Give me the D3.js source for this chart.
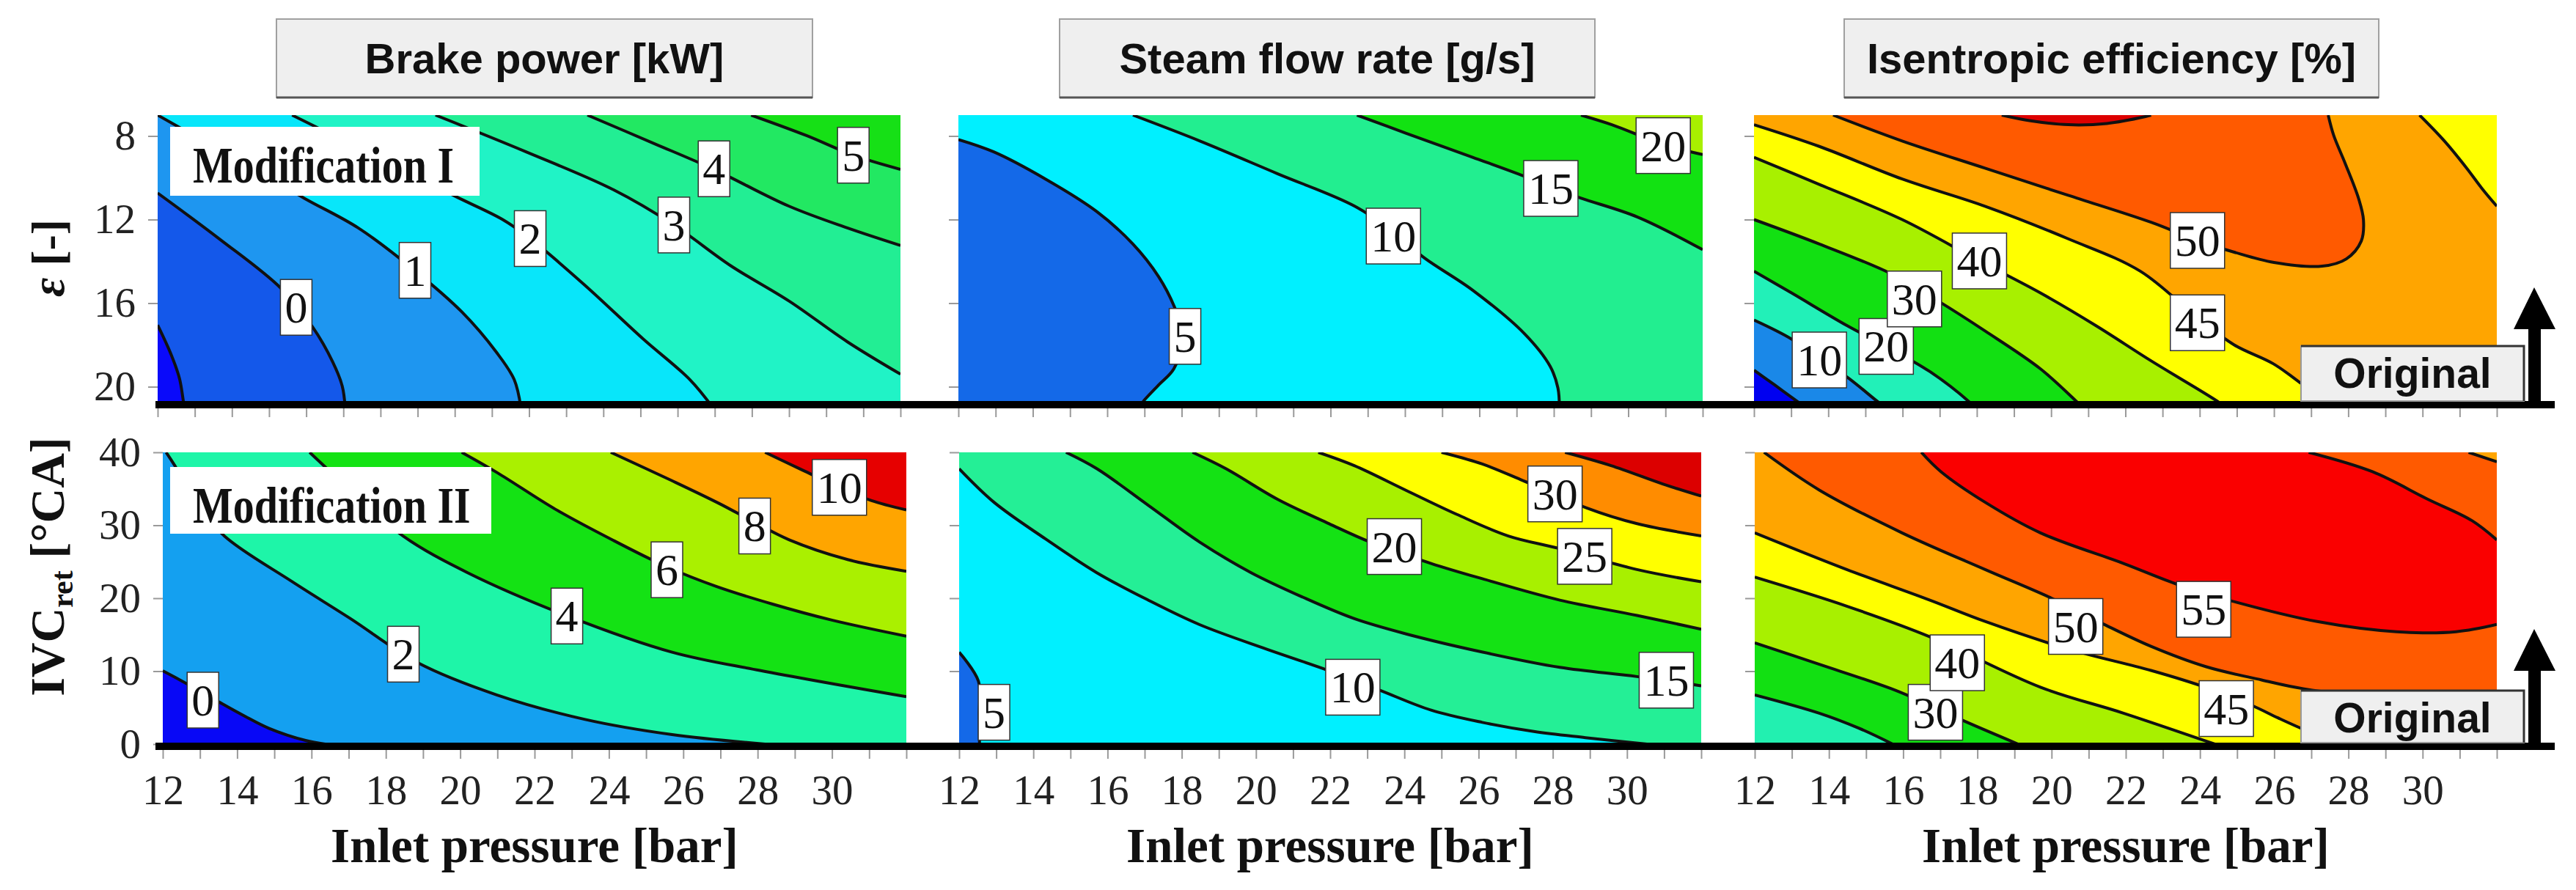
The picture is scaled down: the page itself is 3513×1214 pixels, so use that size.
<!DOCTYPE html>
<html>
<head>
<meta charset="utf-8">
<script src="https://cdn.jsdelivr.net/npm/d3@7"></script>
<style>
  body { margin: 0; background: #fff; }
  svg { display: block; }
</style>
</head>
<body>
<svg id="fig" width="3513" height="1214"></svg>
<script>
// axis ticks
var pressureTicks = [12, 14, 16, 18, 20, 22, 24, 26, 28, 30];
var epsTicks = [8, 12, 16, 20];
var ivcTicks = [0, 10, 20, 30, 40];
var panelTitles = ["Brake power [kW]", "Steam flow rate [g/s]", "Isentropic efficiency [%]"];
var rowNames = ["Modification I", "Modification II"];

// contour lines: [inlet pressure, eps or IVC]
// low:true = the closed part is the side below the level

// Brake power, Modification I
var bp1Levels = [-1, 0, 1, 2, 3, 4, 5];
var bp1Lines = [
  {level: -1, pts: [[12,17.05],[12.36,18.45],[12.59,19.62],[12.69,20.67],[12.72,21]]},
  {level: 0, pts: [[12,10.73],[13.68,12.95],[15.32,15.29],[16.18,17.16],[16.71,18.8],[16.97,19.97],[17.05,21]]},
  {level: 1, pts: [[12,7],[13.2,8.2],[14.6,9.55],[15.94,10.97],[17.4,12.4],[18.93,14.45],[20.19,16.42],[21.13,18.37],[21.6,19.66],[21.78,21]]},
  {level: 2, pts: [[15.62,7],[17.1,8.3],[18.6,9.6],[20.03,10.9],[21.29,12.0],[22.03,12.91],[23.49,15.12],[25.07,17.71],[26.33,19.66],[26.95,21]]},
  {level: 3, pts: [[19.48,7],[21.92,8.76],[24.28,10.58],[25.9,12.26],[27.43,14.21],[29.0,15.9],[30.57,17.85],[32,19.4]]},
  {level: 4, pts: [[23.57,7],[25.38,8.37],[26.98,9.6],[29.0,11.36],[30.57,12.4],[32,13.24]]},
  {level: 5, pts: [[27.98,7],[29.47,7.98],[30.73,8.92],[32,9.6]]}
];
var bp1Labels = [
  {text: "0", at: [15.73,16.2]}, {text: "1", at: [18.93,14.43]}, {text: "2", at: [22.03,12.91]},
  {text: "3", at: [25.9,12.26]}, {text: "4", at: [26.98,9.57]}, {text: "5", at: [30.73,8.92]}
];

// Brake power, Modification II
var bp2Levels = [0, 2, 4, 6, 8, 10];
var bp2Lines = [
  {level: 0, pts: [[12,10.05],[12.55,8.55],[13.1,7.0],[13.6,5.53],[14.2,3.85],[14.85,2.18],[15.84,0.5],[16.37,0]]},
  {level: 2, pts: [[12.09,40],[12.32,38.2],[12.9,33],[13.67,28.47],[15.48,22.27],[17.05,17.2],[18.86,11.15],[20.98,6.75],[23.34,3.4],[25.7,1.3],[28.2,0]]},
  {level: 4, pts: [[15.95,40],[17.05,34.8],[18.47,28.5],[20.2,23.5],[22.87,17.6],[25.7,12.6],[28.06,10.1],[32,6.5]]},
  {level: 6, pts: [[20.04,40],[21.0,37.2],[22.56,32.2],[24.13,27.9],[25.56,24.3],[26.9,21.6],[28.4,19.2],[30.0,17.0],[32,14.8]]},
  {level: 8, pts: [[24.05,40],[25.7,36.1],[26.96,33.0],[27.92,30.4],[28.85,28.0],[30.42,25.3],[32,23.7]]},
  {level: 10, pts: [[28.2,40],[29.15,37.7],[30.2,35.2],[31.05,33.4],[32,32.1]]}
];
var bp2Labels = [
  {text: "0", at: [13.08,6.03]}, {text: "2", at: [18.47,12.33]}, {text: "4", at: [22.87,17.56]},
  {text: "6", at: [25.56,23.9]}, {text: "8", at: [27.92,29.9]}, {text: "10", at: [30.2,35.2]}
];

// Steam flow rate, Modification I
var sf1Levels = [5, 10, 15, 20];
var sf1Lines = [
  {level: 5, pts: [[12,8.17],[12.95,8.76],[14.34,10.06],[15.72,11.62],[16.69,13.17],[17.38,14.73],[17.8,16.16],[18.05,17.6],[17.79,19.14],[17.38,19.92],[16.97,20.7],[16.85,21]]},
  {level: 10, pts: [[16.69,7],[18.49,8.24],[20.57,9.8],[22.65,11.36],[23.69,12.6],[24.51,13.82],[25.82,15.38],[27.21,17.46],[27.9,19.02],[28.11,20.06],[28.15,21]]},
  {level: 15, pts: [[22.71,7],[24.02,7.86],[25.82,9.02],[27.21,9.93],[27.92,10.45],[28.72,10.97],[30.25,11.88],[32,13.44]]},
  {level: 20, pts: [[28.73,7],[29.56,7.46],[30.94,8.4],[32,8.89]]}
];
var sf1Labels = [
  {text: "5", at: [18.09,17.59]}, {text: "10", at: [23.69,12.79]},
  {text: "15", at: [27.92,10.51]}, {text: "20", at: [30.94,8.46]}
];

// Steam flow rate, Modification II
var sf2Levels = [5, 10, 15, 20, 25, 30, 35];
var sf2Lines = [
  {level: 5, pts: [[12,12.6],[12.52,8.64],[12.54,4.0],[12.55,0]]},
  {level: 10, pts: [[12,37.75],[12.94,33.15],[14.33,28.12],[15.71,23.5],[17.1,19.73],[18.48,16.38],[20.28,13.03],[21.95,10.1],[23.33,7.4],[24.72,4.66],[26.1,2.98],[27.49,1.73],[28.88,0.89],[30.54,0]]},
  {level: 15, pts: [[14.88,40],[15.71,37.76],[17.1,32.73],[18.48,27.7],[19.87,23.5],[21.26,20.15],[22.64,17.22],[24.03,15.13],[26.11,12.61],[28.19,10.52],[30.27,9.26],[32,8.0]]},
  {level: 20, pts: [[18.29,40],[19.19,37.76],[20.58,33.57],[21.97,30.22],[23.08,27.7],[24.72,24.77],[26.1,22.67],[28.19,19.74],[30.27,17.64],[32,15.76]]},
  {level: 25, pts: [[21.68,40],[22.65,38.18],[24.03,34.83],[25.42,31.48],[26.8,28.54],[28.19,26.8],[30.27,23.93],[32,22.25]]},
  {level: 30, pts: [[25.0,40],[26.1,38.4],[27.21,36.1],[28.06,34.3],[28.9,32.4],[30.27,30.22],[32,28.54]]},
  {level: 35, pts: [[28.33,40],[29.57,38.18],[30.96,35.67],[32,34.0]]}
];
var sf2Labels = [
  {text: "5", at: [12.94,4.36]}, {text: "10", at: [22.61,7.8]}, {text: "15", at: [31.06,8.76]},
  {text: "20", at: [23.73,27.08]}, {text: "25", at: [28.86,25.74]}, {text: "30", at: [28.06,34.3]}
];

// Isentropic efficiency, Modification I
var ie1Levels = [5, 10, 20, 30, 40, 45, 50, 55];
var ie1Lines = [
  {level: 5, pts: [[12,19.21],[12.56,19.92],[13.16,20.7],[13.4,21]]},
  {level: 10, pts: [[12,16.81],[13.01,17.72],[13.76,18.69],[14.5,19.53],[15.32,20.7],[15.55,21]]},
  {level: 20, pts: [[12,14.47],[13.01,15.51],[14.5,17.07],[15.56,18.07],[16.73,19.27],[17.78,20.7],[17.95,21]]},
  {level: 30, pts: [[12,12.0],[13.76,13.17],[15.7,14.6],[16.96,15.9],[18.22,17.33],[19.71,19.14],[20.68,20.7],[20.85,21]]},
  {level: 40, pts: [[12,9.02],[13.76,10.32],[15.99,12.0],[18.07,13.98],[19.71,15.51],[21.2,17.07],[22.69,18.76],[24.48,20.7],[24.7,21]]},
  {level: 45, pts: [[12,7.46],[13.76,8.5],[15.99,10.06],[18.22,11.36],[20.46,12.92],[22.4,14.47],[23.94,16.7],[24.93,18.0],[25.98,18.9],[26.73,19.84],[27.6,21]]},
  {level: 45, low: true, pts: [[29.92,7],[30.59,8.24],[31.19,9.54],[31.63,10.58],[32,11.36]]},
  {level: 50, pts: [[14.13,7],[15.99,8.24],[18.22,9.54],[20.46,10.84],[22.69,12.13],[23.94,13.0],[24.93,13.56],[26.0,14.05],[27.3,14.23],[27.95,13.88],[28.35,13.03],[28.41,12.02],[28.28,11.0],[27.91,9.28],[27.61,7.98],[27.46,7]]},
  {level: 55, pts: [[18.67,7],[19.41,7.26],[20.46,7.46],[21.5,7.4],[22.54,7.07],[22.69,7]]}
];
var ie1Labels = [
  {text: "10", at: [13.76,18.72]}, {text: "20", at: [15.56,18.07]}, {text: "30", at: [16.32,15.8]},
  {text: "40", at: [18.07,13.98]}, {text: "45", at: [23.94,16.94]}, {text: "50", at: [23.94,13.0]}
];

// Isentropic efficiency, Modification II
var ie2Levels = [20, 30, 40, 45, 50, 55];
var ie2Lines = [
  {level: 20, pts: [[12,6.75],[13.74,4.24],[14.8,2.2],[15.72,0]]},
  {level: 30, pts: [[12,13.88],[13.74,10.94],[15.68,7.59],[16.87,5.0],[17.54,3.4],[19.1,0]]},
  {level: 40, pts: [[12,22.89],[14.48,18.91],[16.72,14.72],[19.7,7.8],[21.94,4.24],[24.4,0]]},
  {level: 45, pts: [[12,28.96],[14.48,23.93],[16.72,19.74],[18.21,16.81],[20.45,13.03],[22.68,10.1],[24.2,7.7],[25.4,5.3],[26.1,3.6],[26.8,2.0],[27.8,0]]},
  {level: 50, pts: [[12.25,40],[13.74,34.83],[15.97,28.96],[18.21,23.93],[20.0,20.0],[21.34,16.6],[22.68,13.4],[24.17,10.6],[25.66,8.8],[26.78,7.6],[29.39,6.1],[32,5.3]]},
  {level: 55, pts: [[16.49,40],[17.02,37.34],[18.21,33.15],[19.7,28.96],[21.94,24.77],[23.43,21.83],[24.77,19.74],[27.16,16.8],[29.3,15.4],[30.9,15.4],[32,16.4]]},
  {level: 55, low: true, pts: [[26.93,40],[28.65,37.34],[30.14,33.57],[31.33,30.64],[32,28.0]]},
  {level: 50, low: true, pts: [[31.24,40],[32,38.7]]}
];
var ie2Labels = [
  {text: "30", at: [16.87,4.36]}, {text: "40", at: [17.46,11.15]}, {text: "45", at: [24.71,4.87]},
  {text: "50", at: [20.65,16.13]}, {text: "55", at: [24.1,18.48]}
];

// band colours, lowest band first
var palettes = {
  bp1: ["#0a0afa", "#1458ea", "#1e96f0", "#08e6fa", "#20f3c6", "#22ee94", "#22e862", "#16e016"],
  bp2: ["#0808f6", "#14a0f0", "#1ef5a8", "#14e214", "#aaf000", "#ffa500", "#e60000"],
  sf1: ["#1469e8", "#00f0ff", "#22ee90", "#12e212", "#a8f000"],
  sf2: ["#1469e8", "#00f0ff", "#24ef96", "#14e214", "#a8f000", "#ffff00", "#ff8c00", "#dc0000"],
  ie1: ["#0000f0", "#1a88e8", "#22f0b8", "#12e012", "#a8f000", "#ffff00", "#ffa500", "#ff5a00", "#dd0000"],
  ie2: ["#22f0b0", "#12e012", "#a8f000", "#ffff00", "#ffa500", "#ff5a00", "#fa0000"]
};

var panels = [
  {row: 0, col: 0, levels: bp1Levels, lines: bp1Lines, labels: bp1Labels, pal: "bp1"},
  {row: 0, col: 1, levels: sf1Levels, lines: sf1Lines, labels: sf1Labels, pal: "sf1"},
  {row: 0, col: 2, levels: ie1Levels, lines: ie1Lines, labels: ie1Labels, pal: "ie1"},
  {row: 1, col: 0, levels: bp2Levels, lines: bp2Lines, labels: bp2Labels, pal: "bp2"},
  {row: 1, col: 1, levels: sf2Levels, lines: sf2Lines, labels: sf2Labels, pal: "sf2"},
  {row: 1, col: 2, levels: ie2Levels, lines: ie2Lines, labels: ie2Labels, pal: "ie2"}
];

// layout (pixels)
var colX = [[[215,1228],[1307,2322],[2392,3405]], [[222,1236],[1308,2320],[2393,3405]]];
var rowY = [[157,556],[617,1015]];
var thickY = [552, 1018];
var serif = "'Liberation Serif','Times New Roman',Times,serif";
var sans = "'Liberation Sans',Arial,Helvetica,sans-serif";

var svg = d3.select("#fig");
svg.append("rect").attr("width", 3513).attr("height", 1214).attr("fill", "#fff");
var defs = svg.append("defs");

var lineGen = d3.line().curve(d3.curveCatmullRom.alpha(0.5));

// perimeter position, going down the left edge, right along the bottom,
// up the right edge and back left along the top
function edgeT(p, f) {
  var W = f.x1 - f.x0, H = f.y1 - f.y0;
  var d = [Math.abs(p[0] - f.x0), Math.abs(p[1] - f.y1), Math.abs(p[0] - f.x1), Math.abs(p[1] - f.y0)];
  var e = d.indexOf(Math.min.apply(null, d));
  if (e == 0) return p[1] - f.y0;
  if (e == 1) return H + (p[0] - f.x0);
  if (e == 2) return H + W + (f.y1 - p[1]);
  return 2 * H + W + (f.x1 - p[0]);
}

function regionPath(pp, f) {
  var W = f.x1 - f.x0, H = f.y1 - f.y0, P = 2 * H + 2 * W;
  var corners = [
    {t: H, p: [f.x0, f.y1]}, {t: H + W, p: [f.x1, f.y1]},
    {t: 2 * H + W, p: [f.x1, f.y0]}, {t: P, p: [f.x0, f.y0]}
  ];
  var ts = edgeT(pp[0], f), te = edgeT(pp[pp.length - 1], f);
  if (ts <= te) ts += P;
  var d = lineGen(pp);
  for (var k = 0; k < 2; k++) {
    corners.forEach(function(c) {
      var tt = c.t + k * P;
      if (tt > te && tt < ts) d += "L" + c.p[0] + "," + c.p[1];
    });
  }
  return d + "Z";
}

function styleAxis(ax) {
  ax.select(".domain").remove();
  ax.selectAll(".tick line").attr("stroke", "#9a9a9a").attr("stroke-width", 2);
  ax.selectAll(".tick text").attr("font-family", serif).attr("font-size", 57).attr("fill", "#222");
}

function drawPanel(p) {
  var x0 = colX[p.row][p.col][0], x1 = colX[p.row][p.col][1];
  var y0 = rowY[p.row][0], y1 = rowY[p.row][1];
  var f = {x0: x0, x1: x1, y0: y0, y1: y1};
  var x = d3.scaleLinear().domain([12, 32]).range([x0, x1]);
  var y = p.row == 0
    ? d3.scaleLinear().domain([7, 21]).range([y0, y1])
    : d3.scaleLinear().domain([0, 40]).range([y1, y0]);
  var pal = palettes[p.pal];

  var id = "clip" + p.row + p.col;
  defs.append("clipPath").attr("id", id)
    .append("rect").attr("x", x0).attr("y", y0).attr("width", x1 - x0).attr("height", y1 - y0);
  var g = svg.append("g").attr("clip-path", "url(#" + id + ")");

  g.append("rect").attr("x", x0).attr("y", y0).attr("width", x1 - x0).attr("height", y1 - y0)
    .attr("fill", pal[0]);

  var proj = function(l) { return l.pts.map(function(d) { return [x(d[0]), y(d[1])]; }); };

  // filled bands, painted from low to high
  g.selectAll("path.band").data(p.lines).enter().append("path")
    .attr("class", "band")
    .attr("d", function(l) { return regionPath(proj(l), f); })
    .attr("fill", function(l) { return pal[p.levels.indexOf(l.level) + (l.low ? 0 : 1)]; });

  g.selectAll("path.iso").data(p.lines).enter().append("path")
    .attr("class", "iso")
    .attr("d", function(l) { return lineGen(proj(l)); })
    .attr("fill", "none").attr("stroke", "#111").attr("stroke-width", 4);

  // contour labels
  var lab = svg.append("g").selectAll("g").data(p.labels).enter().append("g")
    .attr("transform", function(d) { return "translate(" + x(d.at[0]) + "," + y(d.at[1]) + ")"; });
  lab.append("text")
    .attr("text-anchor", "middle").attr("y", 21)
    .attr("font-family", serif).attr("font-size", 62).attr("fill", "#111")
    .text(function(d) { return d.text; });
  lab.each(function() {
    var gg = d3.select(this);
    var w = gg.select("text").node().getComputedTextLength() + 12;
    gg.insert("rect", "text").attr("x", -w / 2).attr("y", -38).attr("width", w).attr("height", 76)
      .attr("fill", "#fff").attr("stroke", "#333").attr("stroke-width", 1.5);
  });

  // axes
  var ya = svg.append("g").attr("transform", "translate(" + x0 + ",0)")
    .call(d3.axisLeft(y).tickValues(p.row == 0 ? epsTicks : ivcTicks).tickSize(13).tickPadding(17)
      .tickFormat(function(v) { return p.col == 0 ? v : ""; }));
  styleAxis(ya);

  var xa = svg.append("g").attr("transform", "translate(0," + (thickY[p.row] + 5) + ")")
    .call(d3.axisBottom(x).tickValues(d3.range(12, 33)).tickSize(12).tickPadding(22)
      .tickFormat(function(v) { return p.row == 1 && pressureTicks.indexOf(v) >= 0 ? v : ""; }));
  styleAxis(xa);

  if (p.row == 1) {
    svg.append("text").attr("x", (x0 + x1) / 2).attr("y", 1176).attr("text-anchor", "middle")
      .attr("font-family", serif).attr("font-weight", "bold").attr("font-size", 67).attr("fill", "#111")
      .text("Inlet pressure [bar]");
  }
}

panels.forEach(drawPanel);

// thick baselines
thickY.forEach(function(ty) {
  svg.append("line").attr("x1", 212).attr("x2", 3484).attr("y1", ty).attr("y2", ty)
    .attr("stroke", "#000").attr("stroke-width", 10);
});

// row tags
var tagBoxes = [[232,173,422,94], [232,637,438,91]];
rowNames.forEach(function(name, i) {
  var b = tagBoxes[i];
  svg.append("rect").attr("x", b[0]).attr("y", b[1]).attr("width", b[2]).attr("height", b[3]).attr("fill", "#fff");
  svg.append("text").attr("transform", "translate(263," + (b[1] + 76) + ") scale(1,1.2)")
    .attr("font-family", serif).attr("font-weight", "bold").attr("font-size", 58).attr("fill", "#111")
    .text(name);
});

// y axis titles
var eps = svg.append("text").attr("transform", "translate(87,352) rotate(-90)").attr("text-anchor", "middle")
  .attr("font-family", serif).attr("font-weight", "bold").attr("font-size", 64).attr("fill", "#111");
eps.append("tspan").attr("font-style", "italic").text("ε");
eps.append("tspan").text(" [-]");

var ivc = svg.append("text").attr("transform", "translate(87,773) rotate(-90)").attr("text-anchor", "middle")
  .attr("font-family", serif).attr("font-weight", "bold").attr("font-size", 66).attr("fill", "#111");
ivc.append("tspan").text("IVC");
ivc.append("tspan").attr("font-size", 42).attr("dy", 12).text("ret");
ivc.append("tspan").attr("dy", -12).text(" [°CA]");

// panel titles
var titleBoxes = [[377,1108],[1445,2175],[2515,3244]];
panelTitles.forEach(function(t, i) {
  var b = titleBoxes[i];
  svg.append("rect").attr("x", b[0]).attr("y", 26).attr("width", b[1] - b[0]).attr("height", 107)
    .attr("fill", "#efefef").attr("stroke", "#a0a0a0").attr("stroke-width", 2);
  svg.append("line").attr("x1", b[0]).attr("x2", b[1]).attr("y1", 133).attr("y2", 133)
    .attr("stroke", "#555").attr("stroke-width", 3);
  svg.append("text").attr("x", (b[0] + b[1]) / 2).attr("y", 100).attr("text-anchor", "middle")
    .attr("font-family", sans).attr("font-weight", "bold").attr("font-size", 58).attr("fill", "#111")
    .text(t);
});

// "Original" markers with arrows
var origTop = [472, 942];
origTop.forEach(function(top, i) {
  var base = thickY[i];
  svg.append("rect").attr("x", 3138).attr("y", top).attr("width", 304).attr("height", base - 5 - top)
    .attr("fill", "#efefef").attr("stroke", "#9a9a9a").attr("stroke-width", 2);
  svg.append("path").attr("d", "M3138," + top + "H3442V" + (base - 5))
    .attr("fill", "none").attr("stroke", "#333").attr("stroke-width", 3);
  svg.append("text").attr("x", 3290).attr("y", top + 57).attr("text-anchor", "middle")
    .attr("font-family", sans).attr("font-weight", "bold").attr("font-size", 57).attr("fill", "#111")
    .text("Original");
  var headBase = base - 103, apex = base - 160;
  svg.append("rect").attr("x", 3448).attr("y", headBase - 1).attr("width", 17).attr("height", base - headBase)
    .attr("fill", "#000");
  svg.append("path").attr("d", "M3428," + headBase + "L3485," + headBase + "L3456," + apex + "Z")
    .attr("fill", "#000");
});
</script>
</body>
</html>
